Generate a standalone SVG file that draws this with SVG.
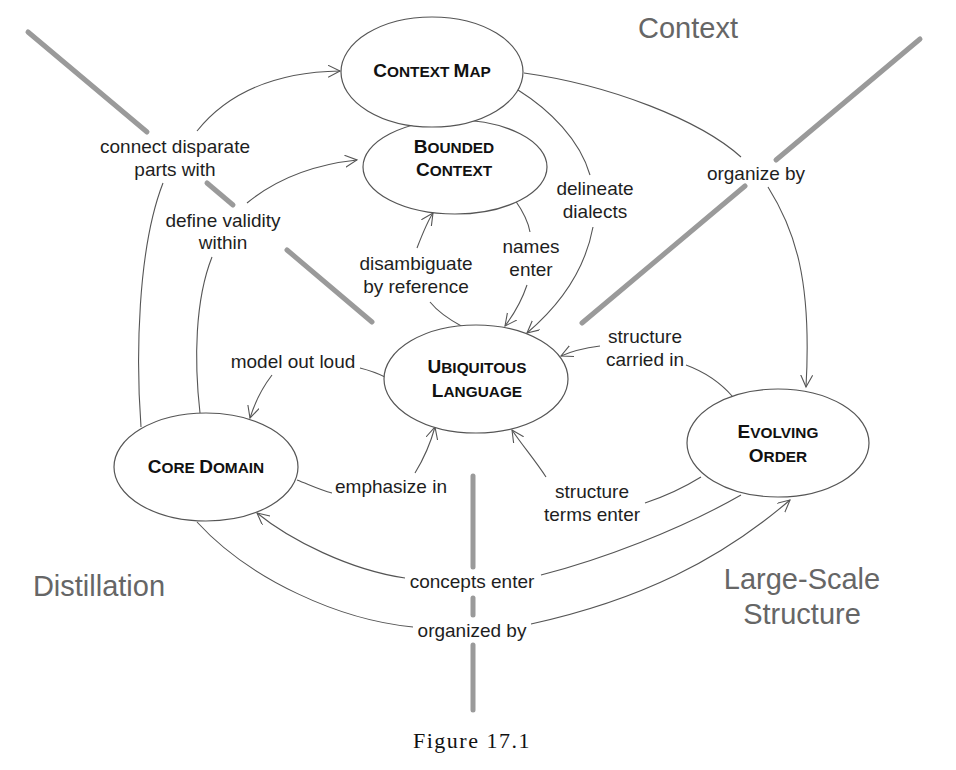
<svg xmlns="http://www.w3.org/2000/svg" width="956" height="770" viewBox="0 0 956 770">
<defs>
<style>
.bg{fill:#fff}
.zone{stroke:#9a9a9a;stroke-width:5;stroke-linecap:round;fill:none}
.node{fill:#fff;stroke:#555;stroke-width:1.2}
.edge{fill:none;stroke:#555;stroke-width:1.1}
.arr{marker-end:url(#arrow)}
.nt{font-family:"Liberation Sans",Arial,sans-serif;font-weight:bold;fill:#111;text-anchor:middle}
.big{font-size:19px}
.sm{font-size:15.4px}
.lbl{font-family:"Liberation Sans",Arial,sans-serif;font-size:19px;fill:#1e1e1e;text-anchor:middle}
.title{font-family:"Liberation Sans",Arial,sans-serif;font-size:29px;fill:#666;text-anchor:middle}
.cap{font-family:"Liberation Serif","Times New Roman",serif;font-size:22px;letter-spacing:1.5px;fill:#111;text-anchor:middle}
</style>
<marker id="arrow" markerUnits="userSpaceOnUse" markerWidth="16" markerHeight="16" refX="12" refY="6" orient="auto">
<path d="M0,0 L12,6 L0,12" fill="none" stroke="#555" stroke-width="1.1"/>
</marker>
</defs>
<rect class="bg" x="0" y="0" width="956" height="770"/>

<g id="zones">
<line class="zone" x1="28" y1="32" x2="147" y2="132"/>
<line class="zone" x1="207" y1="183" x2="233" y2="205"/>
<line class="zone" x1="287" y1="250" x2="372" y2="322"/>
<line class="zone" x1="920" y1="39" x2="776" y2="160"/>
<line class="zone" x1="745" y1="186" x2="582" y2="323"/>
<line class="zone" x1="473" y1="476" x2="473" y2="567"/>
<line class="zone" x1="473" y1="598" x2="473" y2="615"/>
<line class="zone" x1="473" y1="645" x2="473" y2="710"/>
</g>

<g id="titles">
<text class="title" x="688" y="38">Context</text>
<text class="title" x="99" y="596">Distillation</text>
<text class="title" x="802" y="589">Large-Scale</text>
<text class="title" x="802" y="624">Structure</text>
</g>

<g id="connectors">
<path class="edge" d="M141,427 C136,360 137,250 163,183"/>
<path class="edge arr" d="M197,131 C230,90 280,72 340,71"/>
<path class="edge" d="M200,413 C194,360 195,300 212,257"/>
<path class="edge arr" d="M247,203 C275,180 310,165 357,160"/>
<path class="edge" d="M463,327 C450,320 438,312 430,302"/>
<path class="edge arr" d="M417,248 C422,235 427,222 433,213"/>
<path class="edge" d="M515,200 C522,210 528,220 530,232"/>
<path class="edge arr" d="M527,285 C522,300 514,314 505,326"/>
<path class="edge" d="M518,90 C550,110 580,140 590,175"/>
<path class="edge arr" d="M593,227 C585,270 560,305 527,333"/>
<path class="edge" d="M524,73 C610,85 700,120 741,157"/>
<path class="edge arr" d="M768,187 C795,230 812,280 806,387"/>
<path class="edge" d="M733,397 C720,382 705,372 686,365"/>
<path class="edge arr" d="M600,346 C585,348 572,351 561,356"/>
<path class="edge" d="M701,477 C680,490 660,498 645,503"/>
<path class="edge arr" d="M546,477 C535,460 522,445 512,430"/>
<path class="edge" d="M385,377 C375,372 368,370 360,368"/>
<path class="edge arr" d="M272,375 C262,388 255,402 250,418"/>
<path class="edge" d="M297,480 C310,485 320,490 332,493"/>
<path class="edge arr" d="M415,473 C423,460 430,445 435,427"/>
<path class="edge" d="M741,495 C680,530 600,560 541,575"/>
<path class="edge arr" d="M405,578 C350,570 290,540 257,513"/>
<path class="edge" d="M197,522 C250,580 340,620 413,627"/>
<path class="edge arr" d="M531,624 C640,600 720,560 790,500"/>

<text class="lbl" x="175" y="153">connect disparate</text>
<text class="lbl" x="175" y="176">parts with</text>
<text class="lbl" x="223" y="227">define validity</text>
<text class="lbl" x="223" y="249">within</text>
<text class="lbl" x="416" y="270">disambiguate</text>
<text class="lbl" x="416" y="293">by reference</text>
<text class="lbl" x="531" y="253">names</text>
<text class="lbl" x="531" y="276">enter</text>
<text class="lbl" x="595" y="195">delineate</text>
<text class="lbl" x="595" y="218">dialects</text>
<text class="lbl" x="756" y="180">organize by</text>
<text class="lbl" x="645" y="343">structure</text>
<text class="lbl" x="645" y="366">carried in</text>
<text class="lbl" x="592" y="498">structure</text>
<text class="lbl" x="592" y="521">terms enter</text>
<text class="lbl" x="293" y="368">model out loud</text>
<text class="lbl" x="391" y="493">emphasize in</text>
<text class="lbl" x="472" y="588">concepts enter</text>
<text class="lbl" x="472" y="637">organized by</text>
</g>

<g id="bounded-context">
<ellipse class="node" cx="455" cy="167" rx="92" ry="47"/>
<text class="nt" x="454" y="153"><tspan class="big">B</tspan><tspan class="sm">OUNDED</tspan></text>
<text class="nt" x="454" y="176"><tspan class="big">C</tspan><tspan class="sm">ONTEXT</tspan></text>
</g>

<g id="context-map">
<ellipse class="node" cx="432" cy="72" rx="91" ry="55"/>
<text class="nt" x="432" y="77"><tspan class="big">C</tspan><tspan class="sm">ONTEXT </tspan><tspan class="big">M</tspan><tspan class="sm">AP</tspan></text>
</g>

<g id="ubiquitous-language">
<ellipse class="node" cx="476" cy="379" rx="92" ry="54"/>
<text class="nt" x="477" y="373"><tspan class="big">U</tspan><tspan class="sm">BIQUITOUS</tspan></text>
<text class="nt" x="477" y="397"><tspan class="big">L</tspan><tspan class="sm">ANGUAGE</tspan></text>
</g>

<g id="core-domain">
<ellipse class="node" cx="206" cy="467" rx="92" ry="54"/>
<text class="nt" x="206" y="473"><tspan class="big">C</tspan><tspan class="sm">ORE </tspan><tspan class="big">D</tspan><tspan class="sm">OMAIN</tspan></text>
</g>

<g id="evolving-order">
<ellipse class="node" cx="778" cy="443" rx="91" ry="54"/>
<text class="nt" x="778" y="438"><tspan class="big">E</tspan><tspan class="sm">VOLVING</tspan></text>
<text class="nt" x="778" y="462"><tspan class="big">O</tspan><tspan class="sm">RDER</tspan></text>
</g>

<g id="caption">
<text class="cap" x="472" y="748">Figure 17.1</text>
</g>
</svg>
